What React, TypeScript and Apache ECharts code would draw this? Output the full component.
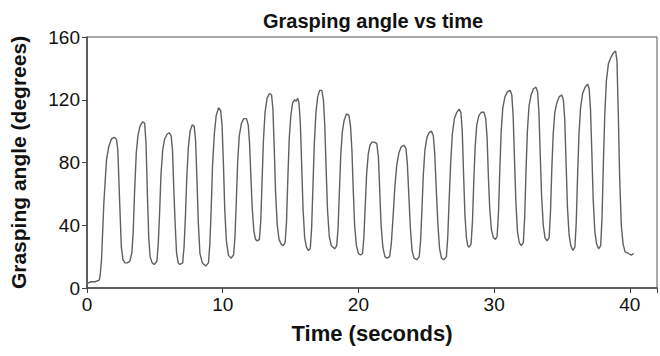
import React, { useEffect, useRef } from "react";
import * as echarts from "echarts";

const chartTitle = "Grasping angle vs time";
const xAxisName = "Time (seconds)";
const yAxisName = "Grasping angle (degrees)";
const xTicks = [0, 10, 20, 30, 40];
const yTicks = [0, 40, 80, 120, 160];

// [time (s), grasping angle (degrees)]
const angleSamples: [number, number][] = [
  [0, 3], [0.3, 4], [0.6, 4], [0.9, 5], [0.97, 8], [1.07, 18], [1.24, 54], [1.44, 82], [1.6, 90],
  [1.8, 95], [2.0, 96], [2.17, 95], [2.27, 88],
  [2.41, 54], [2.53, 26], [2.65, 18], [2.8, 16], [2.95, 16], [3.15, 17],
  [3.3, 22], [3.4, 35], [3.5, 60], [3.63, 86], [3.75, 97], [3.9, 103], [4.1, 106], [4.25, 105], [4.35, 92],
  [4.45, 60], [4.55, 32], [4.65, 20], [4.8, 16], [4.95, 15], [5.15, 17],
  [5.25, 28], [5.35, 48], [5.45, 72], [5.58, 88], [5.72, 95], [5.9, 98], [6.05, 99], [6.2, 97], [6.3, 88],
  [6.4, 62], [6.5, 40], [6.6, 22], [6.72, 16], [6.85, 15], [7.05, 16],
  [7.15, 26], [7.25, 45], [7.35, 70], [7.47, 90], [7.6, 100], [7.75, 104], [7.9, 103], [8.0, 94],
  [8.1, 70], [8.2, 42], [8.32, 22], [8.5, 16], [8.75, 14], [8.95, 16],
  [9.05, 28], [9.15, 50], [9.25, 78], [9.38, 98], [9.52, 110], [9.7, 115], [9.85, 113], [9.95, 104],
  [10.05, 80], [10.15, 50], [10.27, 30], [10.42, 21], [10.6, 19], [10.8, 21],
  [10.9, 32], [11.0, 55], [11.1, 80], [11.22, 97], [11.38, 105], [11.55, 108], [11.75, 108], [11.88, 104], [11.98, 92],
  [12.08, 70], [12.18, 50], [12.3, 36], [12.42, 31], [12.55, 30], [12.7, 31],
  [12.8, 42], [12.9, 68], [13.0, 94], [13.12, 112], [13.27, 121], [13.45, 124], [13.6, 123], [13.7, 114],
  [13.8, 88], [13.9, 60], [14.02, 40], [14.15, 31], [14.3, 28], [14.45, 27], [14.6, 29],
  [14.7, 42], [14.8, 70], [14.9, 95], [15.02, 110], [15.15, 118], [15.3, 120], [15.42, 119], [15.52, 121], [15.62, 118], [15.72, 105],
  [15.82, 78], [15.92, 50], [16.04, 32], [16.17, 26], [16.3, 24], [16.45, 25],
  [16.55, 38], [16.65, 65], [16.75, 92], [16.87, 112], [17.0, 122], [17.15, 126], [17.3, 126], [17.42, 120], [17.52, 104],
  [17.62, 76], [17.72, 50], [17.85, 33], [18.0, 27], [18.25, 25], [18.4, 27],
  [18.5, 38], [18.6, 62], [18.7, 85], [18.82, 100], [18.95, 107], [19.12, 111], [19.3, 110], [19.42, 103], [19.52, 88],
  [19.62, 62], [19.72, 40], [19.85, 27], [20.0, 22], [20.15, 21], [20.3, 22],
  [20.4, 32], [20.5, 52], [20.6, 72], [20.72, 85], [20.85, 91], [21.0, 93], [21.2, 93], [21.35, 92], [21.47, 84],
  [21.57, 62], [21.67, 40], [21.8, 26], [21.95, 20], [22.1, 19], [22.3, 20],
  [22.42, 28], [22.55, 45], [22.68, 64], [22.82, 78], [22.98, 86], [23.15, 90], [23.35, 91], [23.5, 89], [23.6, 80],
  [23.72, 58], [23.83, 38], [23.95, 24], [24.1, 19], [24.3, 18], [24.48, 20],
  [24.58, 30], [24.68, 50], [24.78, 72], [24.9, 88], [25.05, 96], [25.2, 99], [25.38, 100], [25.52, 97], [25.62, 86],
  [25.74, 62], [25.86, 40], [25.98, 25], [26.12, 19], [26.3, 18], [26.48, 20],
  [26.58, 32], [26.68, 55], [26.8, 80], [26.92, 98], [27.07, 108], [27.25, 112], [27.42, 114], [27.55, 112], [27.65, 100],
  [27.75, 72], [27.85, 46], [27.96, 32], [28.05, 27], [28.15, 26], [28.3, 28],
  [28.4, 42], [28.5, 68], [28.6, 90], [28.72, 104], [28.88, 110], [29.05, 112], [29.25, 112], [29.38, 108], [29.48, 96],
  [29.58, 70], [29.68, 50], [29.8, 37], [29.95, 32], [30.1, 31], [30.22, 33],
  [30.32, 48], [30.42, 76], [30.52, 100], [30.64, 115], [30.8, 122], [30.98, 125], [31.18, 126], [31.3, 123], [31.4, 110],
  [31.5, 82], [31.6, 55], [31.72, 36], [31.85, 29], [32.0, 27], [32.15, 29],
  [32.25, 45], [32.35, 75], [32.45, 100], [32.57, 116], [32.72, 123], [32.9, 127], [33.08, 128], [33.2, 125], [33.3, 112],
  [33.4, 84], [33.5, 58], [33.62, 40], [33.75, 32], [33.9, 30], [34.05, 32],
  [34.15, 48], [34.25, 76], [34.35, 98], [34.47, 112], [34.62, 118], [34.8, 122], [34.98, 123], [35.1, 120], [35.2, 108],
  [35.3, 80], [35.4, 52], [35.52, 34], [35.65, 27], [35.8, 24], [35.95, 26],
  [36.05, 42], [36.15, 72], [36.25, 98], [36.37, 115], [36.52, 124], [36.7, 128], [36.88, 130], [37.0, 127], [37.1, 114],
  [37.2, 86], [37.3, 56], [37.42, 36], [37.55, 28], [37.7, 25], [37.85, 27],
  [37.95, 45], [38.05, 80], [38.15, 110], [38.27, 132], [38.42, 143], [38.6, 147], [38.8, 150], [38.95, 151], [39.05, 145],
  [39.15, 110], [39.25, 70], [39.37, 40], [39.5, 28], [39.65, 23], [39.9, 22], [40.1, 21], [40.3, 22],
];

export default function App() {
  const ref = useRef<HTMLDivElement>(null);
  useEffect(() => {
    if (!ref.current) return;
    const chart = echarts.init(ref.current, null, { renderer: "svg" });
    const font = "'Liberation Sans', Arial, sans-serif";
    chart.setOption({
      animation: false,
      backgroundColor: "#ffffff",
      title: {
        text: chartTitle,
        left: 258,
        top: 6,
        textStyle: { fontFamily: font, fontSize: 20, fontWeight: "bold", color: "#111" },
      },
      grid: {
        left: 87,
        right: -2,
        top: 37,
        bottom: 68,
        show: true,
        borderColor: "#555",
        borderWidth: 1,
        backgroundColor: "transparent",
      },
      xAxis: {
        type: "value",
        min: 0,
        max: 42,
        interval: 10,
        name: xAxisName,
        nameLocation: "middle",
        nameGap: 34,
        nameTextStyle: { fontFamily: font, fontSize: 22, fontWeight: "bold", color: "#111" },
        axisLine: { show: true, lineStyle: { color: "#444", width: 1.5 } },
        axisTick: { show: true, length: 5, lineStyle: { color: "#444" } },
        axisLabel: {
          fontFamily: font,
          fontSize: 19,
          color: "#111",
          margin: 7,
          formatter: (v: number) => (xTicks.includes(v) ? String(v) : ""),
        },
        splitLine: { show: false },
      },
      yAxis: {
        type: "value",
        min: 0,
        max: 160,
        interval: 40,
        name: yAxisName,
        nameLocation: "middle",
        nameGap: 58,
        nameTextStyle: { fontFamily: font, fontSize: 21, fontWeight: "bold", color: "#111" },
        axisLine: { show: true, lineStyle: { color: "#444", width: 1.5 } },
        axisTick: { show: true, length: 5, lineStyle: { color: "#444" } },
        axisLabel: {
          fontFamily: font,
          fontSize: 19,
          color: "#111",
          margin: 7,
          formatter: (v: number) => (yTicks.includes(v) ? String(v) : ""),
        },
        splitLine: { show: false },
      },
      series: [
        {
          type: "line",
          data: angleSamples,
          showSymbol: false,
          symbol: "none",
          lineStyle: { color: "#606060", width: 1.4 },
        },
      ],
    });
    return () => chart.dispose();
  }, []);
  return <div ref={ref} style={{ width: 660, height: 356, position: "absolute", left: 0, top: 0 }} />;
}
